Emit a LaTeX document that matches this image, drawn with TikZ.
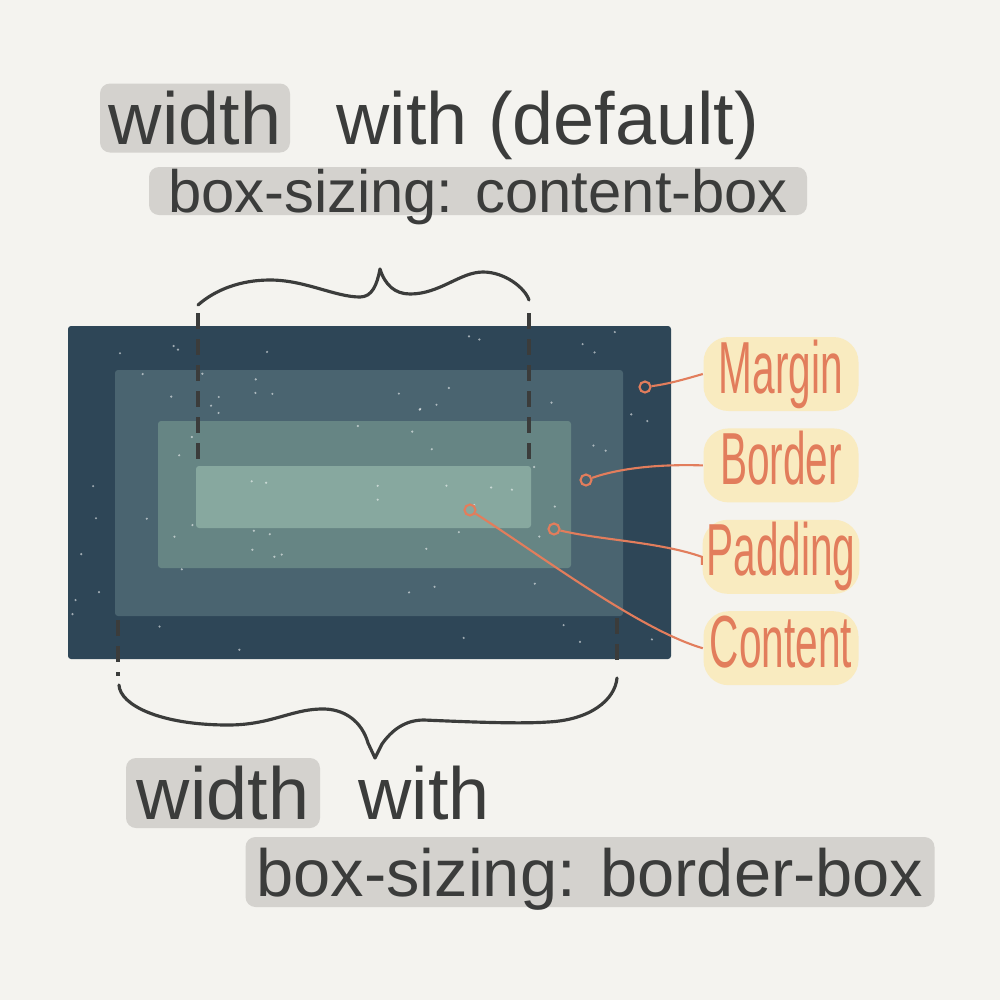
\documentclass[tikz,border=0pt]{standalone}
\usepackage{fontspec}
\setmainfont{Liberation Sans}
\newfontfamily\handlabel{Liberation Sans}[FakeStretch=0.55]
\usetikzlibrary{positioning}
\definecolor{paper}{HTML}{F4F3EF}
\definecolor{ink}{HTML}{3B3C3B}
\definecolor{hlgrey}{HTML}{D4D2CE}
\definecolor{marginc}{HTML}{2E4657}
\definecolor{borderc}{HTML}{4A6470}
\definecolor{paddingc}{HTML}{668584}
\definecolor{contentc}{HTML}{87A89F}
\definecolor{coral}{HTML}{E27D5C}
\definecolor{glow}{HTML}{F9EBC0}
\newcommand{\handbig}{\fontsize{21}{25}\selectfont}
\newcommand{\handmid}{\fontsize{17}{20}\selectfont}
\newcommand{\handlow}{\fontsize{19}{23}\selectfont}
\tikzset{hl/.style={fill=hlgrey,rounded corners=1mm,text=ink,inner sep=0pt,text depth=0pt},
	 txt/.style={text=ink,inner sep=0pt},
	 lbl/.style={fill=glow,rounded corners=2.5mm,text=coral,font=\handlabel\handbig,minimum width=15.5mm,inner sep=0.4mm,text height=5.2mm,text depth=1.4mm},
	 ring/.style={circle,draw=coral,line width=0.6pt,inner sep=0pt,minimum size=1.1mm},
	 lead/.style={draw=coral,line width=0.6pt},
	 brace/.style={draw=ink,line width=0.9pt,line cap=round,line join=round},
	 guide/.style={draw=ink,line width=0.9pt,dash pattern=on 1.6mm off 1mm},
	 node distance = 1.6mm
	 }

\begin{document}
\begin{tikzpicture}[x=0.1mm,y=-0.1mm] % content-box vs border-box
	\fill[paper] (0,0) rectangle (1000,1000);
	\node[hl,font=\handbig,minimum width=19mm,minimum height=6.9mm] (w1) at (195,118) {width};
	\node[txt,font=\handbig] (d1) [base right=4.5mm of w1] {with (default)};
	\node[hl,font=\handmid,minimum width=65.8mm,minimum height=4.8mm] (cb) at (478,191) {box-sizing: content-box};

	\fill[marginc,rounded corners=0.3mm] (68,326) rectangle (671,659);
	\fill[borderc,rounded corners=0.3mm] (115,370) rectangle (623,616);
	\fill[paddingc,rounded corners=0.3mm] (158,421) rectangle (571,568);
	\fill[contentc,rounded corners=0.3mm] (196,466) rectangle (531,528);
	\pgfmathsetseed{11}
	\foreach \i in {1,...,70}{
		\pgfmathsetmacro{\sx}{72+595*rnd}
		\pgfmathsetmacro{\sy}{330+325*rnd}
		\fill[white,opacity=0.55] (\sx,\sy) circle (0.12mm);
	}

	\coordinate (tl) at (198,305); \coordinate (tr) at (529,300);
	\draw[brace] (tl) .. controls (215,290) and (240,280) .. (270,280) .. controls (305,280) and (335,297) .. (360,297)
		.. controls (372,297) and (377,285) .. (380,269) .. controls (385,285) and (395,294) .. (410,294)
		.. controls (440,294) and (460,272) .. (483,272) .. controls (505,272) and (525,288) .. (tr);
	\coordinate (gl1) at (198,313); \coordinate (gl2) at (198,460);
	\coordinate (gr1) at (529,313); \coordinate (gr2) at (529,460);
	\draw[guide] (gl1) -- (gl2); \draw[guide] (gr1) -- (gr2);

	\coordinate (bl) at (119,685); \coordinate (bbr) at (617,678);
	\draw[brace] (bl) .. controls (120,705) and (160,725) .. (228,725) .. controls (270,725) and (290,710) .. (320,709)
		.. controls (345,708) and (362,722) .. (368,743) -- (375,758) -- (382,744)
		.. controls (392,730) and (405,720) .. (424,720) .. controls (470,722) and (520,724) .. (548,722)
		.. controls (590,720) and (615,700) .. (bbr);
	\coordinate (hl1) at (118,620); \coordinate (hl2) at (118,676);
	\coordinate (hr1) at (617,618); \coordinate (hr2) at (617,668);
	\draw[guide] (hl1) -- (hl2); \draw[guide] (hr1) -- (hr2);

	\node[lbl] (margin) at (781,374) {Margin};
	\node[lbl] (border) [below=of margin] {Border};
	\node[lbl] (padding) [below=of border] {Padding};
	\node[lbl] (content) [below=of padding] {Content};
	\node[ring] (mring) at (645,387) {};
	\node[ring] (bring) at (586,480) {};
	\node[ring] (pring) at (554,529) {};
	\node[ring] (cring) at (470,510) {};
	\draw[lead] (mring) .. controls (668,384) and (682,380) .. (margin.west);
	\draw[lead] (bring) .. controls (620,468) and (660,464) .. (border.west);
	\draw[lead] (pring) .. controls (600,540) and (660,542) .. (padding.west) -- ++(0,8);
	\draw[lead] (cring) .. controls (540,555) and (640,630) .. (content.west);

	\node[hl,font=\handbig,minimum width=19.4mm,minimum height=7mm] (w2) at (223,793) {width};
	\node[txt,font=\handbig] (d2) [base right=3.7mm of w2] {with};
	\node[hl,font=\handlow,minimum width=68.9mm,minimum height=7mm] (bb) at (590,872) {box-sizing: border-box};
\end{tikzpicture}
\end{document}
